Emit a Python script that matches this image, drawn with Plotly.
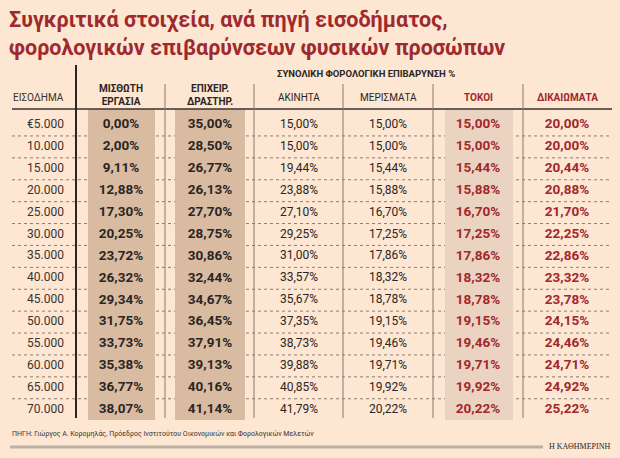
import plotly.graph_objects as go

income = ["€5.000", "10.000", "15.000", "20.000", "25.000", "30.000", "35.000",
          "40.000", "45.000", "50.000", "55.000", "60.000", "65.000", "70.000"]
misthoti = [0.00, 2.00, 9.11, 12.88, 17.30, 20.25, 23.72, 26.32, 29.34, 31.75, 33.73, 35.38, 36.77, 38.07]
epixeir = [35.00, 28.50, 26.77, 26.13, 27.70, 28.75, 30.86, 32.44, 34.67, 36.45, 37.91, 39.13, 40.16, 41.14]
akinita = [15.00, 15.00, 19.44, 23.88, 27.10, 29.25, 31.00, 33.57, 35.67, 37.35, 38.73, 39.88, 40.85, 41.79]
merismata = [15.00, 15.00, 15.44, 15.88, 16.70, 17.25, 17.86, 18.32, 18.78, 19.15, 19.46, 19.71, 19.92, 20.22]
tokoi = [15.00, 15.00, 15.44, 15.88, 16.70, 17.25, 17.86, 18.32, 18.78, 19.15, 19.46, 19.71, 19.92, 20.22]
dikaiomata = [20.00, 20.00, 20.44, 20.88, 21.70, 22.25, 22.86, 23.32, 23.78, 24.15, 24.46, 24.71, 24.92, 25.22]

headers = ["ΜΙΣΘΩΤΗ<br>ΕΡΓΑΣΙΑ", "ΕΠΙΧΕΙΡ.<br>ΔΡΑΣΤΗΡ.", "ΑΚΙΝΗΤΑ", "ΜΕΡΙΣΜΑΤΑ", "ΤΟΚΟΙ", "ΔΙΚΑΙΩΜΑΤΑ"]

W, H = 620, 458
BG = "#fde6d2"
RED = "#a3272c"
DARK = "#2b2523"
SHADE = "#d9bba1"
SHADE2 = "#ebd3c2"
FONT = "Roboto, DejaVu Sans Condensed, sans-serif"

ROW0, ROWH = 125, 21.9
rows_y = [ROW0 + i * ROWH for i in range(len(income))]
col_x = [121, 210, 299, 388, 478, 567]
col_sep = [165, 254, 343, 433, 523]


def pct(vals):
    return [f"{v:.2f}".replace(".", ",") + "%" for v in vals]


fig = go.Figure()

series = [
    (misthoti, DARK, True),
    (epixeir, DARK, True),
    (akinita, DARK, False),
    (merismata, DARK, False),
    (tokoi, RED, True),
    (dikaiomata, RED, True),
]
for cx, (vals, color, bold) in zip(col_x, series):
    fig.add_trace(go.Scatter(
        x=[cx] * len(vals), y=rows_y, mode="text", text=pct(vals),
        textposition="middle center",
        textfont=dict(family=FONT, size=13.5 if bold else 12, color=color,
                      weight="bold" if bold else "normal"),
        hoverinfo="skip", showlegend=False))

fig.add_trace(go.Scatter(
    x=[64] * len(income), y=rows_y, mode="text", text=income,
    textposition="middle left",
    textfont=dict(family=FONT, size=12, color="#3a3330"),
    hoverinfo="skip", showlegend=False))

shapes = []
# row separators (dotted)
for y in rows_y[:-1]:
    shapes.append(dict(type="line", x0=12, x1=612, y0=y + ROWH / 2, y1=y + ROWH / 2,
                       line=dict(color="#8a7b72", width=1, dash="dot"), layer="below"))
# shaded columns
for x0, x1, c in [(88, 155, SHADE), (175, 245, SHADE), (445, 513, SHADE2)]:
    shapes.append(dict(type="rect", x0=x0, x1=x1, y0=109, y1=420,
                       fillcolor=c, line=dict(width=0), layer="below"))
# header rule and column separators
shapes.append(dict(type="line", x0=12, x1=612, y0=109, y1=109,
                   line=dict(color="#3a3330", width=1.5)))
shapes.append(dict(type="line", x0=76, x1=76, y0=65, y1=418,
                   line=dict(color="#2b2523", width=2)))
for x in col_sep:
    shapes.append(dict(type="line", x0=x, x1=x, y0=84, y1=418,
                       line=dict(color="#8a7b72", width=1)))
# footer bar
shapes.append(dict(type="line", x0=10, x1=543, y0=447, y1=447,
                   line=dict(color="#bdb0a6", width=3)))

annotations = [
    dict(x=7, y=20, text="Συγκριτικά στοιχεία, ανά πηγή εισοδήματος,",
         font=dict(family=FONT, size=21.5, color="#9e2a2e", weight="bold")),
    dict(x=7, y=47, text="φορολογικών επιβαρύνσεων φυσικών προσώπων",
         font=dict(family=FONT, size=21.5, color="#9e2a2e", weight="bold")),
    dict(x=366, y=73, text="ΣΥΝΟΛΙΚΗ ΦΟΡΟΛΟΓΙΚΗ ΕΠΙΒΑΡΥΝΣΗ %", xanchor="center",
         font=dict(family=FONT, size=9.5, color=DARK, weight="bold")),
    dict(x=38, y=97, text="ΕΙΣΟΔΗΜΑ", xanchor="center",
         font=dict(family=FONT, size=10, color="#3a3330")),
    dict(x=10, y=433, text="ΠΗΓΗ: Γιώργος Α. Κορομηλάς, Πρόεδρος Ινστιτούτου Οικονομικών και Φορολογικών Μελετών",
         font=dict(family=FONT, size=7, color="#3a3330")),
    dict(x=612, y=446, text="Η ΚΑΘΗΜΕΡΙΝΗ", xanchor="right",
         font=dict(family="Liberation Serif, serif", size=8, color="#2b2523")),
]
for cx, h in zip(col_x, headers):
    bold = h not in ("ΑΚΙΝΗΤΑ", "ΜΕΡΙΣΜΑΤΑ")
    color = RED if h in ("ΤΟΚΟΙ", "ΔΙΚΑΙΩΜΑΤΑ") else DARK
    annotations.append(dict(x=cx, y=95 if "<br>" in h else 97, text=h, xanchor="center",
                            font=dict(family=FONT, size=10, color=color,
                                      weight="bold" if bold else "normal")))
for a in annotations:
    a.setdefault("xanchor", "left")
    a.update(xref="x", yref="y", yanchor="middle", showarrow=False, align="center")

fig.update_layout(
    width=W, height=H, margin=dict(l=0, r=0, t=0, b=0),
    paper_bgcolor=BG, plot_bgcolor=BG,
    xaxis=dict(range=[0, W], visible=False, fixedrange=True),
    yaxis=dict(range=[H, 0], visible=False, fixedrange=True),
    shapes=shapes, annotations=annotations,
)

# the page's default body margin would push the chart 8px down/right
fig.write_html("out.html", config={"displayModeBar": False},
               post_script="document.body.style.margin='0';")
